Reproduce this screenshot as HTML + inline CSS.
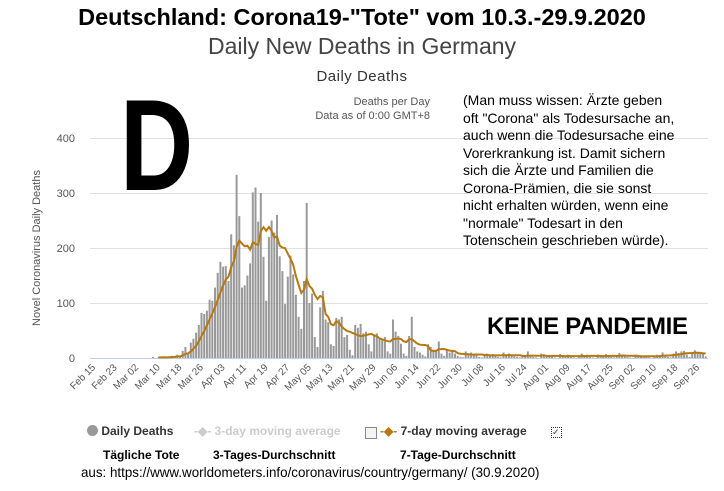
<!DOCTYPE html>
<html><head><meta charset="utf-8"><style>
body{margin:0;background:#fff;width:724px;height:491px;overflow:hidden;position:relative;font-family:"Liberation Sans",sans-serif}
.a{position:absolute;white-space:nowrap}
</style></head><body>
<div class="a" style="left:0;width:724px;top:4px;text-align:center;font-weight:bold;font-size:23.5px;color:#000">Deutschland: Corona19-"Tote" vom 10.3.-29.9.2020</div>
<div class="a" style="left:0;width:724px;top:33px;text-align:center;font-size:23px;color:#444">Daily New Deaths in Germany</div>
<div class="a" style="left:0;width:724px;top:68px;text-align:center;font-size:15px;color:#333;letter-spacing:0.5px">Daily Deaths</div>
<div class="a" style="left:300px;width:130px;top:95px;text-align:right;font-size:11px;color:#555;line-height:14px">Deaths per Day<br>Data as of 0:00 GMT+8</div>
<svg class="a" style="left:0;top:0" width="724" height="491" id="s">
<g stroke="#e0e0e0" stroke-width="1">
<line x1="90" x2="708" y1="138.5" y2="138.5"/><line x1="90" x2="708" y1="193.5" y2="193.5"/><line x1="90" x2="708" y1="248.5" y2="248.5"/><line x1="90" x2="708" y1="303.5" y2="303.5"/>
</g>
<g font-size="11" fill="#555" text-anchor="end" font-family="Liberation Sans,sans-serif">
<text x="75" y="142">400</text><text x="75" y="197">300</text><text x="75" y="252">200</text><text x="75" y="307">100</text><text x="75" y="362">0</text>
</g>
<text transform="translate(40,248) rotate(-90)" text-anchor="middle" font-size="11" fill="#555" font-family="Liberation Sans,sans-serif">Novel Coronavirus Daily Deaths</text>
<g id="bars" fill="#999"></g>
<line x1="90" x2="708" y1="358.5" y2="358.5" stroke="#c0d0e8"/>
<polyline id="avg" fill="none" stroke="#b8780f" stroke-width="2"/>
<g id="lab" font-size="10" fill="#555" text-anchor="end" font-family="Liberation Sans,sans-serif"></g>
</svg>
<div class="a" style="left:120px;top:70px;font-size:130px;font-weight:bold;color:#000;line-height:150px;transform:scaleX(0.78);transform-origin:0 0">D</div>
<div class="a" style="left:463px;top:92px;font-size:14px;color:#000;line-height:17.5px">(Man muss wissen: Ärzte geben<br>oft "Corona" als Todesursache an,<br>auch wenn die Todesursache eine<br>Vorerkrankung ist. Damit sichern<br>sich die Ärzte und Familien die<br>Corona-Prämien, die sie sonst<br>nicht erhalten würden, wenn eine<br>"normale" Todesart in den<br>Totenschein geschrieben würde).</div>
<div class="a" style="left:487px;top:313px;font-size:24px;font-weight:bold;color:#000;letter-spacing:-0.3px">KEINE PANDEMIE</div>
<div class="a" style="left:87px;top:424px;font-size:12px;font-weight:bold;color:#333"><span style="display:inline-block;width:11px;height:11px;border-radius:50%;background:#999;vertical-align:-1px"></span> Daily Deaths</div>
<div class="a" style="left:194px;top:424px;font-size:12px;font-weight:bold;color:#ccc">-◆- 3-day moving average</div>
<div class="a" style="left:365px;top:427px;width:10px;height:10px;border:1px solid #888;background:#f4f4f4"></div>
<div class="a" style="left:380px;top:424px;font-size:12px;font-weight:bold;color:#333"><span style="color:#b8780f">-◆-</span> 7-day moving average</div>
<div class="a" style="left:551px;top:427px;width:9px;height:9px;border:1px dotted #333;font-size:9px;line-height:9px;color:#339">✓</div>
<div class="a" style="left:103px;top:448px;font-size:12px;font-weight:bold;color:#000">Tägliche Tote</div>
<div class="a" style="left:213px;top:448px;font-size:12px;font-weight:bold;color:#000">3-Tages-Durchschnitt</div>
<div class="a" style="left:400px;top:448px;font-size:12px;font-weight:bold;color:#000">7-Tage-Durchschnitt</div>
<div class="a" style="left:81px;top:464px;font-size:14px;color:#000;transform:scaleX(0.955);transform-origin:0 0">aus: https://www.worldometers.info/coronavirus/country/germany/ (30.9.2020)</div>
<script>
var d=[2,0,1,1,2,0,3,4,3,6,3,13,20,10,28,35,46,60,82,80,86,106,104,128,155,175,166,167,140,225,205,333,258,128,132,150,172,301,310,248,300,184,104,220,250,228,260,185,158,98,148,186,152,115,75,53,140,282,100,117,38,20,92,122,70,65,25,22,73,70,75,38,42,15,5,60,55,62,45,48,25,12,40,45,35,32,38,12,8,70,48,40,26,8,4,40,75,20,12,10,6,3,25,20,15,12,30,8,4,15,10,12,8,4,2,1,12,8,10,6,5,2,1,6,8,5,7,4,2,1,10,6,8,4,3,2,1,5,3,12,5,2,1,0,8,6,5,4,3,1,0,7,5,3,6,2,1,0,5,8,4,6,3,1,0,6,5,3,7,4,2,1,4,9,5,6,2,1,0,6,5,3,4,3,1,0,5,6,5,10,4,2,1,8,12,9,12,13,6,2,10,14,11,9,8,3];
var x0=91,px=2.696,start=23,zy=358,k=0.55;
var b='',pts=[];
for(var i=0;i<d.length;i++){var x=x0+(start+i)*px;var h=d[i]*k;
b+='<rect x="'+(x-1).toFixed(1)+'" y="'+(zy-h).toFixed(1)+'" width="2" height="'+h.toFixed(1)+'"/>';
if(i>=2){var s=0,n=0;for(var j=Math.max(0,i-6);j<=i;j++){s+=d[j];n++;}pts.push(x.toFixed(1)+','+(zy-s/n*k).toFixed(1));}}
document.getElementById('bars').innerHTML=b;
document.getElementById('avg').setAttribute('points',pts.join(' '));
var m=['Feb 15','Feb 23','Mar 02','Mar 10','Mar 18','Mar 26','Apr 03','Apr 11','Apr 19','Apr 27','May 05','May 13','May 21','May 29','Jun 06','Jun 14','Jun 22','Jun 30','Jul 08','Jul 16','Jul 24','Aug 01','Aug 09','Aug 17','Aug 25','Sep 02','Sep 10','Sep 18','Sep 26'];
var l='';for(var i=0;i<m.length;i++){var x=93+i*8*px;l+='<text transform="translate('+(x+3).toFixed(1)+',368) rotate(-45)">'+m[i]+'</text>';}
document.getElementById('lab').innerHTML=l;
</script>
</body></html>
